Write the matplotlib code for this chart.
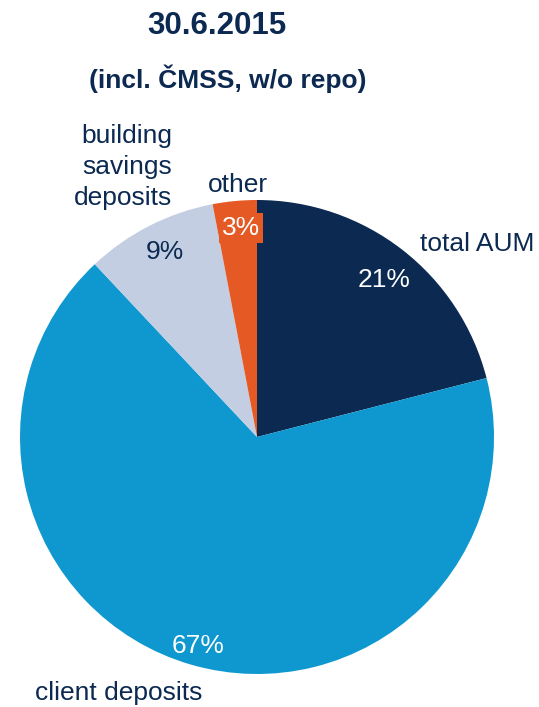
import matplotlib.pyplot as plt

plt.rcParams['font.family'] = ['Liberation Sans', 'DejaVu Sans']

# asset structure, shares in %
labels = ['total AUM', 'client deposits', 'building\nsavings\ndeposits', 'other']
shares = [21, 67, 9, 3]
colors = ['#0b2951', '#0e98cf', '#c3cee3', '#e55a24']
navy = '#0b2951'

W, H = 539, 707
fig = plt.figure(figsize=(W / 100, H / 100), dpi=100)
ax = fig.add_axes([0, 0, 1, 1])

def py(y):
    return H - y

ax.pie(shares, colors=colors, startangle=90, counterclock=False,
       center=(257, py(437)), radius=237, frame=True,
       wedgeprops=dict(linewidth=0))
ax.set_xlim(0, W)
ax.set_ylim(0, H)
ax.axis('off')

ax.text(217, py(26), '30.6.2015', ha='center', va='center',
        fontsize=22.5, fontweight='bold', color=navy)
ax.text(228, py(79), '(incl. ČMSS, w/o repo)', ha='center', va='center',
        fontsize=19, fontweight='bold', color=navy)

fs = 19
# category names
ax.text(420, py(244), labels[0], ha='left', va='center', fontsize=fs, color=navy)
ax.text(35, py(693), labels[1], ha='left', va='center', fontsize=fs, color=navy)
ax.text(172, py(167), labels[2], ha='right', va='center', fontsize=fs,
        color=navy, multialignment='right', linespacing=1.37)
ax.text(238, py(185), labels[3], ha='center', va='center', fontsize=fs, color=navy)

# percentage labels
ax.text(384, py(280), f'{shares[0]}%', ha='center', va='center', fontsize=fs, color='white')
ax.text(198, py(646), f'{shares[1]}%', ha='center', va='center', fontsize=fs, color='white')
ax.text(165, py(252), f'{shares[2]}%', ha='center', va='center', fontsize=fs, color=navy)
ax.text(241, py(228), f'{shares[3]}%', ha='center', va='center', fontsize=fs, color='white',
        bbox=dict(boxstyle='square,pad=0.1', facecolor=colors[3], edgecolor='none'))

fig.savefig('out.png', dpi=100)
